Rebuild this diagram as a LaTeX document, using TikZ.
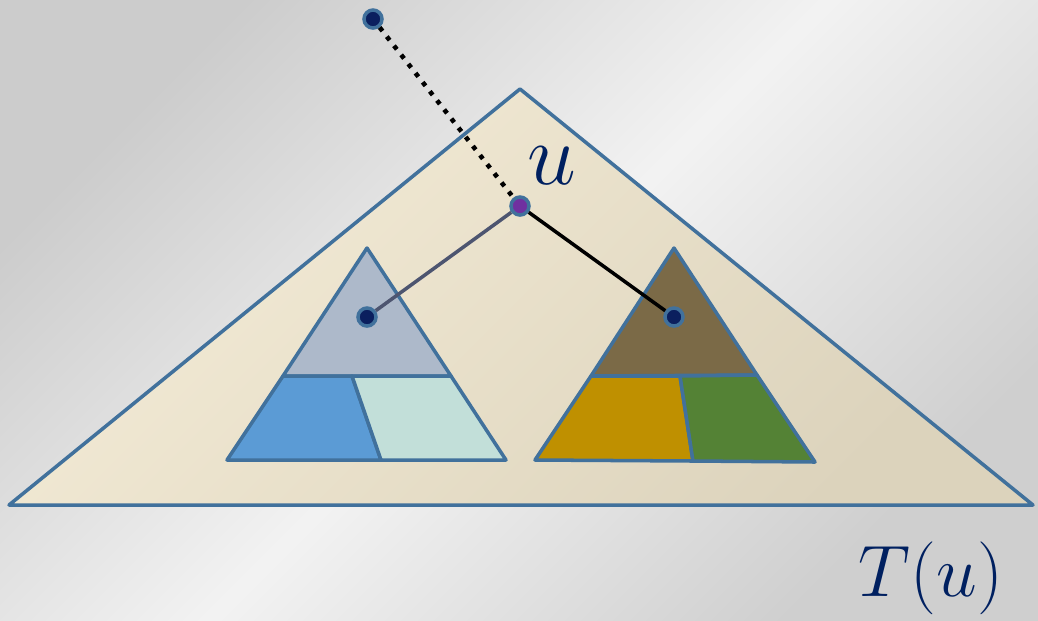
\documentclass[tikz,border=0pt]{standalone}
\usepackage{amsmath,amssymb}
\usepackage{xcolor}
\usepackage{tikz}
\definecolor{edge}{HTML}{41719C}
\definecolor{ink}{HTML}{002060}
\definecolor{dotfill}{HTML}{0B1F5E}
\definecolor{rootfill}{HTML}{7030A0}
\definecolor{cream}{HTML}{F4ECD7}
\definecolor{creamdark}{HTML}{DCD3BC}
\definecolor{lefttop}{HTML}{ADB9CA}
\definecolor{leftA}{HTML}{5B9BD5}
\definecolor{leftB}{HTML}{C2DFD9}
\definecolor{righttop}{HTML}{7B6A47}
\definecolor{rightA}{HTML}{BF9000}
\definecolor{rightB}{HTML}{548235}
\definecolor{linkgray}{HTML}{4D5570}

\begin{document}
\begin{tikzpicture}[x=0.01cm, y=-0.01cm,
    part/.style={draw=edge, line width=1pt, line join=round},
    dot/.style={circle, draw=edge, line width=1pt, fill=dotfill,
                minimum size=0.18cm, inner sep=0pt},
    lbl/.style={text=ink, font=\fontsize{23}{26}\selectfont}
  ]
    % background
    \shade[left color=black!20, right color=black!19, middle color=black!5, shading angle=45]
      (0,0) rectangle (1038,620);
    \useasboundingbox (0,0) rectangle (1038,620);

    % the whole subtree T(u)
    \shade[left color=cream, right color=creamdark, shading angle=45]
      (520,89) -- (1033,505) -- (9,505) -- cycle;
    \draw[edge, line width=1pt, line join=round] (520,89) -- (1033,505) -- (9,505) -- cycle;

    % left child subtree
    \filldraw[part, fill=lefttop] (367,248) -- (451,376) -- (283,376) -- cycle;
    \filldraw[part, fill=leftA] (283,376) -- (352,376) -- (381,460) -- (227,460) -- cycle;
    \filldraw[part, fill=leftB] (352,376) -- (451,376) -- (506,460) -- (381,460) -- cycle;

    % right child subtree
    \filldraw[part, fill=righttop] (674,248) -- (757,375) -- (591,376) -- cycle;
    \filldraw[part, fill=rightA] (591,376) -- (680,376) -- (693,461) -- (535,460) -- cycle;
    \filldraw[part, fill=rightB] (680,376) -- (757,375) -- (815,462) -- (693,461) -- cycle;

    % nodes
    \node[dot] (parent) at (373,19) {};
    \node[dot, fill=rootfill] (u) at (520,206) {};
    \node[dot] (lchild) at (367,317) {};
    \node[dot] (rchild) at (674,317) {};

    \draw[line width=1.3pt, dotted] (parent) -- (u);
    \draw[line width=1pt, linkgray] (u) -- (lchild);
    \draw[line width=1pt, black] (u) -- (rchild);

    % labels
    \node[lbl] (ulabel) at (552,166) {$u$};
    \node[lbl, font=\fontsize{21}{24}\selectfont] (tlabel) at (931,578) {$T(u)$};
  \end{tikzpicture}
\end{document}
